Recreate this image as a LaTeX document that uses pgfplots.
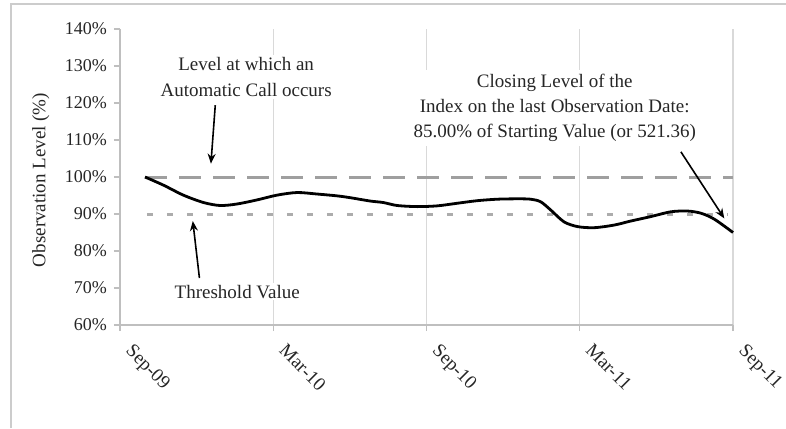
\documentclass[border=0pt]{standalone}
\usepackage{pgfplots}
\pgfplotsset{compat=1.18}
\usepackage{fontspec}
\setmainfont{Liberation Serif}
\usetikzlibrary{arrows.meta}
\begin{document}
\begin{tikzpicture}
\useasboundingbox (-60pt,-51.5pt) rectangle (333pt,162.5pt);
\draw[gray!40, line width=0.6pt] (-54.5pt,-51.5pt) -- (-54.5pt,160.5pt) -- (333pt,160.5pt);
\begin{axis}[
 at={(0,0)}, anchor=south west, scale only axis, width=306.5pt, height=148pt,
 xmin=0, xmax=24, ymin=60, ymax=140,
 axis x line*=bottom, axis y line*=left,
 axis line style={draw=gray!50, line width=0.6pt, -},
 xtick={0,6,12,18,24}, xticklabels={Sep-09,Mar-10,Sep-10,Mar-11,Sep-11},
 ytick={60,70,...,140}, yticklabels={60\%,70\%,80\%,90\%,100\%,110\%,120\%,130\%,140\%},
 tick align=outside, major tick length=3pt,
 tick style={draw=gray!50, line width=0.6pt},
 xmajorgrids, grid style={draw=gray!30, line width=0.6pt},
 xticklabel style={xshift=7pt, yshift=-1pt, rotate=-45, anchor=north west, font=\fontsize{9.5}{11}\selectfont, text=black!85},
 yticklabel style={font=\fontsize{9}{11}\selectfont, text=black!85},
 ylabel={Observation Level (\%)},
 ylabel style={at={(axis description cs:-0.129,0.49)}, anchor=center, font=\fontsize{9.5}{11}\selectfont, text=black!85},
 clip=false,
]
\addplot[gray!75, line width=1.5pt, dash pattern=on 11pt off 6pt] coordinates {(0.98,100) (24,100)};
\addplot[gray!65, line width=1.5pt, dash pattern=on 3pt off 7pt] coordinates {(1.05,90) (23.8,90)};
\addplot[black, line width=1.4pt, smooth, tension=0.5] coordinates {
(0.98,100) (1.70,97.8) (2.48,95.1) (3.27,93.1) (3.92,92.3) (4.58,92.7) (5.36,93.8)
(6.15,95.1) (6.93,95.8) (7.71,95.4) (8.50,94.9) (9.02,94.4) (9.80,93.5) (10.31,93.1)
(10.85,92.3) (11.64,92.0) (12.42,92.2) (13.20,92.9) (13.99,93.6) (14.77,94.0) (15.55,94.1)
(16.08,94.0) (16.47,93.3) (16.86,91.1) (17.38,87.9) (17.91,86.6) (18.56,86.3) (19.34,87.0)
(20.0,88.1) (20.78,89.3) (21.57,90.6) (22.22,90.8) (22.75,90.2) (23.27,88.6) (24.0,85.0)
};
\node[fill=white, align=center, font=\fontsize{9.5}{13}\selectfont, text=black!85, inner sep=1pt] at (axis cs:4.94,127) {Level at which an\\Automatic Call occurs};
\draw[-{Stealth[length=5pt,width=4pt]}, line width=0.8pt] (axis cs:3.73,119.4) -- (axis cs:3.56,103.6);
\node[fill=white, align=center, font=\fontsize{9.5}{13}\selectfont, text=black!85, inner sep=1pt] at (axis cs:4.59,69) {Threshold Value};
\draw[-{Stealth[length=5pt,width=4pt]}, line width=0.8pt] (axis cs:3.11,72.7) -- (axis cs:2.85,88.1);
\node[fill=white, align=center, font=\fontsize{9.5}{12.5}\selectfont, text=black!85, inner sep=2pt] at (axis cs:17.02,118.6) {Closing Level of the\\Index on the last Observation Date:\\85.00\% of Starting Value (or 521.36)};
\draw[-{Stealth[length=5pt,width=4pt]}, line width=0.8pt] (axis cs:21.96,106.8) -- (axis cs:23.66,88.8);
\end{axis}
\end{tikzpicture}
\end{document}
